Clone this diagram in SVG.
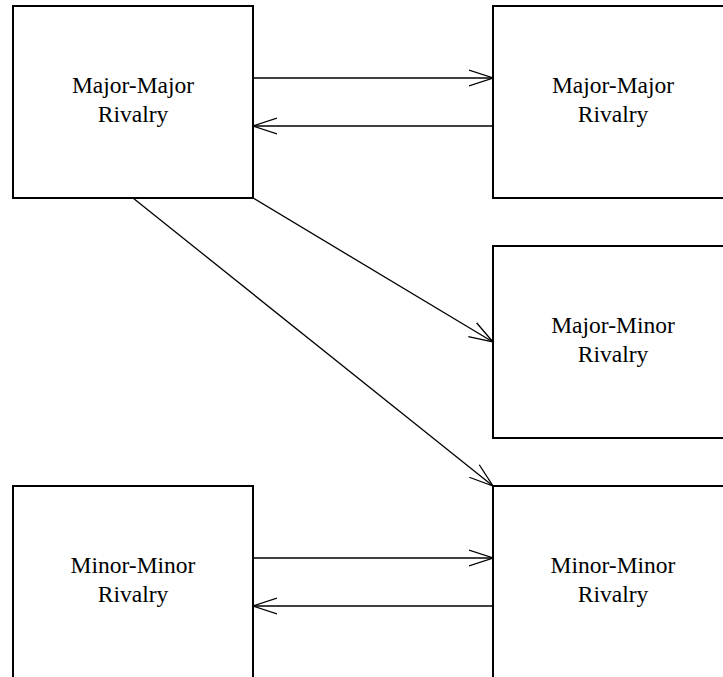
<svg xmlns="http://www.w3.org/2000/svg" width="723" height="677" viewBox="0 0 723 677">
<style>
.box{fill:#fff;stroke:#000;stroke-width:2}
.lbl{font-family:'Liberation Serif','Tinos','Times New Roman','DejaVu Serif',serif;font-size:23.5px;text-anchor:middle;fill:#000}
.edge{fill:none;stroke:#000;stroke-width:1.3}
</style>
<defs>
<marker id="ah" viewBox="0 0 24 18" refX="24" refY="9" markerWidth="24" markerHeight="18" markerUnits="userSpaceOnUse" orient="auto">
<path d="M0,1 L24,9 L0,17" fill="none" stroke="#000" stroke-width="1.3"/>
</marker>
</defs>
<rect width="723" height="677" fill="#fff"/>
<g id="connectors">
<line class="edge" x1="253" y1="78" x2="493" y2="78" marker-end="url(#ah)"/>
<line class="edge" x1="493" y1="126" x2="253" y2="126" marker-end="url(#ah)"/>
<line class="edge" x1="253" y1="198" x2="493" y2="342" marker-end="url(#ah)"/>
<line class="edge" x1="133" y1="198" x2="493" y2="486" marker-end="url(#ah)"/>
<line class="edge" x1="253" y1="558" x2="493" y2="558" marker-end="url(#ah)"/>
<line class="edge" x1="493" y1="606" x2="253" y2="606" marker-end="url(#ah)"/>
</g>
<g id="n1">
<rect class="box" x="13" y="6" width="240" height="192"/>
<text class="lbl" x="133" y="93">Major-Major</text>
<text class="lbl" x="133" y="122">Rivalry</text>
</g>
<g id="n2">
<rect class="box" x="493" y="6" width="240" height="192"/>
<text class="lbl" x="613" y="93">Major-Major</text>
<text class="lbl" x="613" y="122">Rivalry</text>
</g>
<g id="n3">
<rect class="box" x="493" y="246" width="240" height="192"/>
<text class="lbl" x="613" y="333">Major-Minor</text>
<text class="lbl" x="613" y="362">Rivalry</text>
</g>
<g id="n4">
<rect class="box" x="13" y="486" width="240" height="192"/>
<text class="lbl" x="133" y="573">Minor-Minor</text>
<text class="lbl" x="133" y="602">Rivalry</text>
</g>
<g id="n5">
<rect class="box" x="493" y="486" width="240" height="192"/>
<text class="lbl" x="613" y="573">Minor-Minor</text>
<text class="lbl" x="613" y="602">Rivalry</text>
</g>
</svg>
